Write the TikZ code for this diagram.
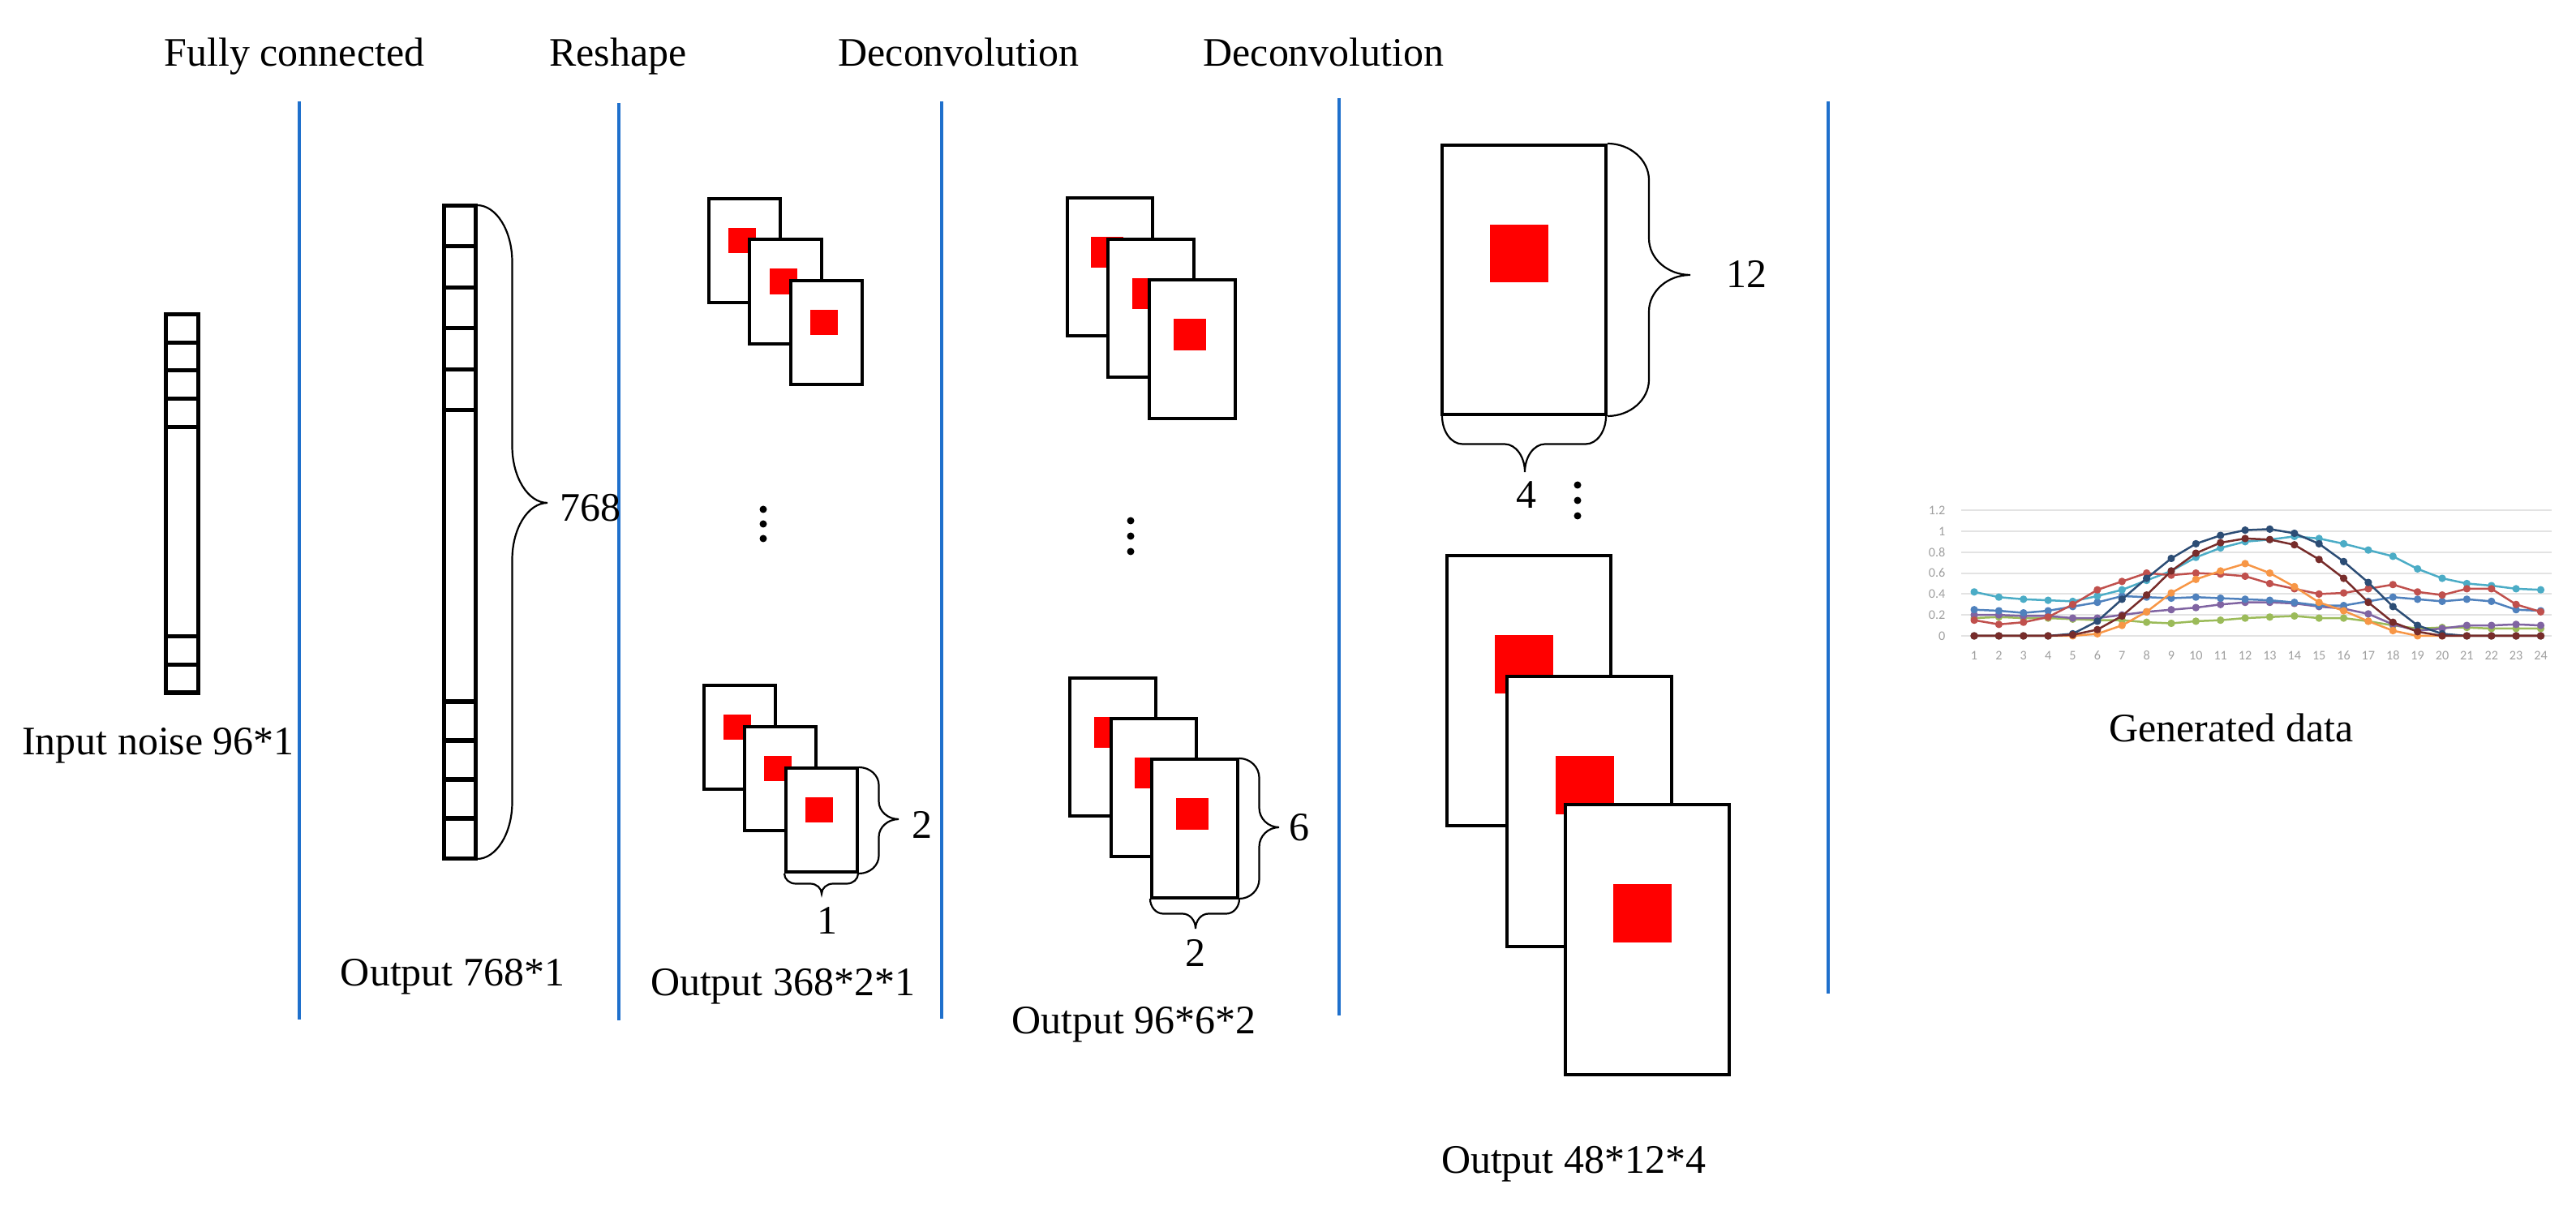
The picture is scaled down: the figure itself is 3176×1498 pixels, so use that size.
\documentclass[tikz,border=0pt]{standalone}
\usepackage{fontspec}
\setmainfont{Liberation Serif}
\newfontfamily\chartfont{Carlito}
\definecolor{sepblue}{RGB}{31,112,204}
\definecolor{cCyan}{HTML}{4BACC6}
\definecolor{cBlue}{HTML}{4F81BD}
\definecolor{cRed}{HTML}{C0504D}
\definecolor{cGreen}{HTML}{9BBB59}
\definecolor{cPurple}{HTML}{8064A2}
\definecolor{cOrange}{HTML}{F79646}
\definecolor{cNavy}{HTML}{2C4D75}
\definecolor{cDarkRed}{HTML}{772C2A}
\newcommand\myRBrace[6]{% x, ytop, ybot, ytip, h, c
 \draw[brc] (#1,#2) .. controls ({#1+0.55*#5},#2) and ({#1+#5},{#2+0.45*#6}) .. ({#1+#5},{#2+#6})
 -- ({#1+#5},{#4-#6}) .. controls ({#1+#5},{#4-0.45*#6}) and ({#1+1.45*#5},#4) .. ({#1+2*#5},#4)
 .. controls ({#1+1.45*#5},#4) and ({#1+#5},{#4+0.45*#6}) .. ({#1+#5},{#4+#6})
 -- ({#1+#5},{#3-#6}) .. controls ({#1+#5},{#3-0.45*#6}) and ({#1+0.55*#5},#3) .. (#1,#3);}
\newcommand\myDBrace[6]{% y, xleft, xright, xtip, h, c
 \draw[brc] (#2,#1) .. controls (#2,{#1+0.55*#5}) and ({#2+0.45*#6},{#1+#5}) .. ({#2+#6},{#1+#5})
 -- ({#4-#6},{#1+#5}) .. controls ({#4-0.45*#6},{#1+#5}) and (#4,{#1+1.45*#5}) .. (#4,{#1+2*#5})
 .. controls (#4,{#1+1.45*#5}) and ({#4+0.45*#6},{#1+#5}) .. ({#4+#6},{#1+#5})
 -- ({#3-#6},{#1+#5}) .. controls ({#3-0.45*#6},{#1+#5}) and (#3,{#1+0.55*#5}) .. (#3,#1);}
\begin{document}
\begin{tikzpicture}[x=0.01cm, y=-0.01cm,
  lbl/.style={font=\fontsize{14.2}{17}\selectfont, inner sep=0pt},
  sepline/.style={draw=sepblue, line width=0.033cm},
  colbox/.style={draw, line width=0.05cm},
  brc/.style={line width=0.022cm},
  fmap/.style={draw, line width=0.04cm, fill=white, inner sep=0pt},
  fmS/.style={fmap, minimum width=0.88cm, minimum height=1.28cm},
  fmM/.style={fmap, minimum width=1.05cm, minimum height=1.70cm},
  fmL/.style={fmap, minimum width=2.02cm, minimum height=3.32cm},
  redsq/.style={fill=red, inner sep=0pt, draw=none},
  redS/.style={redsq, minimum width=0.34cm, minimum height=0.31cm},
  redM/.style={redsq, minimum width=0.40cm, minimum height=0.38cm},
  redL/.style={redsq, minimum width=0.72cm, minimum height=0.71cm},
  vdot/.style={circle, fill=black, inner sep=0pt, minimum size=0.09cm},
  gridc/.style={draw=gray!22, line width=0.02cm},
  axlbl/.style={font=\chartfont\fontsize{4.6}{5}\selectfont, text=gray!75, inner sep=0pt},
  series/.style={color=#1, line width=0.025cm, line join=round}
]
\useasboundingbox (0,0) rectangle (3176,1498);

% ---------- separators ----------
\coordinate (s1t) at (369,125);  \coordinate (s1b) at (369,1257);
\coordinate (s2t) at (763,127);  \coordinate (s2b) at (763,1258);
\coordinate (s3t) at (1161,125); \coordinate (s3b) at (1161,1256);
\coordinate (s4t) at (1651,121); \coordinate (s4b) at (1651,1252);
\coordinate (s5t) at (2254,125); \coordinate (s5b) at (2254,1225);
\draw[sepline] (s1t) -- (s1b);
\draw[sepline] (s2t) -- (s2b);
\draw[sepline] (s3t) -- (s3b);
\draw[sepline] (s4t) -- (s4b);
\draw[sepline] (s5t) -- (s5b);

% ---------- top labels ----------
\node[lbl, anchor=base] (tfc) at (363,82) {Fully connected};
\node[lbl, anchor=base] (trs) at (762,82) {Reshape};
\node[lbl, anchor=base] (td1) at (1182,82) {Deconvolution};
\node[lbl, anchor=base] (td2) at (1632,82) {Deconvolution};

% ---------- input noise column ----------
\draw[colbox] (204,388) rectangle (244,854);
\foreach \yy in {423,457,492,527,785,820} \draw[colbox] (204,\yy) -- (244,\yy);
\node[lbl, anchor=base] (lin) at (195,930) {Input noise 96*1};

% ---------- output 768 column ----------
\draw[colbox] (547,254) rectangle (586,1058);
\foreach \yy in {304,355,405,456,506,865,913,961,1009} \draw[colbox] (547,\yy) -- (586,\yy);
\myRBrace{588}{253}{1059}{620}{43.5}{70}
\node[lbl, anchor=west] (n768) at (690,626) {768};
\node[lbl, anchor=base] (lo1) at (558,1215) {Output 768*1};

% ---------- reshape output ----------
\node[fmS] (ra1) at (918,309) {};
\node[redS] at ([shift={(-3,-12.5)}]ra1.center) {};
\node[fmS] (ra2) at (968.5,359.5) {};
\node[redS] at ([shift={(-3,-12.5)}]ra2.center) {};
\node[fmS] (ra3) at (1019,410) {};
\node[redS] at ([shift={(-3,-12.5)}]ra3.center) {};
\node[vdot] (rd1) at (941,628) {};
\node[vdot] (rd2) at (941,646) {};
\node[vdot] (rd3) at (941,664) {};
\node[fmS] (rb1) at (912,909) {};
\node[redS] at ([shift={(-3,-12.5)}]rb1.center) {};
\node[fmS] (rb2) at (962,960) {};
\node[redS] at ([shift={(-3,-12.5)}]rb2.center) {};
\node[fmS] (rb3) at (1013,1011) {};
\node[redS] at ([shift={(-3,-12.5)}]rb3.center) {};
\myRBrace{1059}{946}{1077}{1010}{24.5}{22}
\myDBrace{1077}{967}{1058}{1013}{12.5}{14}
\node[lbl] (n2a) at (1137,1017) {2};
\node[lbl] (n1a) at (1020,1135) {1};
\node[lbl, anchor=base] (lo2) at (965,1227) {Output 368*2*1};

% ---------- deconvolution 1 output ----------
\node[fmM] (da1) at (1368.5,329) {};
\node[redM] at ([shift={(-3.5,-18)}]da1.center) {};
\node[fmM] (da2) at (1419,380) {};
\node[redM] at ([shift={(-3.5,-18)}]da2.center) {};
\node[fmM] (da3) at (1470,430.5) {};
\node[redM] at ([shift={(-3.5,-18)}]da3.center) {};
\node[vdot] (dd1) at (1394,642) {};
\node[vdot] (dd2) at (1394,661) {};
\node[vdot] (dd3) at (1394,680) {};
\node[fmM] (db1) at (1372,921) {};
\node[redM] at ([shift={(-3.5,-18)}]db1.center) {};
\node[fmM] (db2) at (1422.5,971) {};
\node[redM] at ([shift={(-3.5,-18)}]db2.center) {};
\node[fmM] (db3) at (1473,1021.5) {};
\node[redM] at ([shift={(-3.5,-18)}]db3.center) {};
\myRBrace{1528}{935}{1108}{1020}{24.5}{24}
\myDBrace{1108}{1418}{1528}{1474}{18.5}{16}
\node[lbl] (n6) at (1602,1020) {6};
\node[lbl] (n2b) at (1474,1175) {2};
\node[lbl, anchor=base] (lo3) at (1398,1274) {Output 96*6*2};

% ---------- deconvolution 2 output ----------
\node[fmL] (ea) at (1879,345) {};
\node[redL] at ([shift={(-6,-32.5)}]ea.center) {};
\myRBrace{1982}{177}{513}{339}{51}{45}
\myDBrace{513}{1778}{1980}{1880}{34.5}{25}
\node[lbl] (n12) at (2153,338) {12};
\node[lbl] (n4) at (1882,610) {4};
\node[vdot] (ed1) at (1945,598) {};
\node[vdot] (ed2) at (1945,617) {};
\node[vdot] (ed3) at (1945,636) {};
\node[fmL] (eb1) at (1885,851.5) {};
\node[redL] at ([shift={(-6,-32.5)}]eb1.center) {};
\node[fmL] (eb2) at (1959.5,1000.5) {};
\node[redL] at ([shift={(-6,-32.5)}]eb2.center) {};
\node[fmL] (eb3) at (2031,1158.5) {};
\node[redL] at ([shift={(-6,-32.5)}]eb3.center) {};
\node[lbl, anchor=base] (lo4) at (1940,1446) {Output 48*12*4};

% ---------- generated data chart ----------
\begin{scope}[shift={(2403.65,784)}, x=0.3035cm, y=1.29cm]
  \foreach \v in {0,0.2,0.4,0.6,0.8,1,1.2} \draw[gridc] (0.47,\v) -- (24.43,\v);
  \foreach \v in {0,0.2,0.4,0.6,0.8,1,1.2} \node[axlbl, anchor=east] at (-0.15,\v) {\v};
  \foreach \i in {1,...,24} \node[axlbl] at (\i,-0.186) {\i};
  \draw[series=cGreen] plot[mark=*, mark size=0.95pt] coordinates {(1,.17) (2,.18) (3,.17) (4,.17) (5,.16) (6,.15) (7,.15) (8,.13) (9,.12) (10,.14) (11,.15) (12,.17) (13,.18) (14,.19) (15,.17) (16,.17) (17,.14) (18,.10) (19,.07) (20,.08) (21,.08) (22,.07) (23,.07) (24,.07)};
  \draw[series=cPurple] plot[mark=*, mark size=0.95pt] coordinates {(1,.20) (2,.20) (3,.19) (4,.19) (5,.17) (6,.17) (7,.20) (8,.23) (9,.25) (10,.27) (11,.30) (12,.32) (13,.32) (14,.31) (15,.28) (16,.26) (17,.21) (18,.11) (19,.05) (20,.07) (21,.10) (22,.10) (23,.11) (24,.10)};
  \draw[series=cBlue] plot[mark=*, mark size=0.95pt] coordinates {(1,.25) (2,.24) (3,.22) (4,.24) (5,.28) (6,.32) (7,.38) (8,.37) (9,.36) (10,.37) (11,.36) (12,.35) (13,.34) (14,.32) (15,.29) (16,.29) (17,.33) (18,.37) (19,.35) (20,.33) (21,.35) (22,.33) (23,.25) (24,.24)};
  \draw[series=cCyan] plot[mark=*, mark size=0.95pt] coordinates {(1,.42) (2,.37) (3,.35) (4,.34) (5,.33) (6,.38) (7,.44) (8,.53) (9,.62) (10,.75) (11,.84) (12,.90) (13,.92) (14,.95) (15,.93) (16,.88) (17,.82) (18,.76) (19,.64) (20,.55) (21,.50) (22,.48) (23,.45) (24,.44)};
  \draw[series=cRed] plot[mark=*, mark size=0.95pt] coordinates {(1,.15) (2,.11) (3,.13) (4,.18) (5,.30) (6,.44) (7,.52) (8,.60) (9,.58) (10,.60) (11,.59) (12,.57) (13,.50) (14,.45) (15,.40) (16,.41) (17,.45) (18,.49) (19,.42) (20,.39) (21,.45) (22,.45) (23,.30) (24,.23)};
  \draw[series=cOrange] plot[mark=*, mark size=0.95pt] coordinates {(1,0) (2,0) (3,0) (4,0) (5,0) (6,.02) (7,.10) (8,.23) (9,.41) (10,.54) (11,.62) (12,.69) (13,.60) (14,.47) (15,.32) (16,.24) (17,.14) (18,.05) (19,0) (20,0) (21,0) (22,0) (23,0) (24,0)};
  \draw[series=cNavy] plot[mark=*, mark size=0.95pt] coordinates {(1,0) (2,0) (3,0) (4,0) (5,.02) (6,.14) (7,.35) (8,.55) (9,.74) (10,.88) (11,.96) (12,1.01) (13,1.02) (14,.98) (15,.88) (16,.71) (17,.51) (18,.28) (19,.10) (20,.02) (21,0) (22,0) (23,0) (24,0)};
  \draw[series=cDarkRed] plot[mark=*, mark size=0.95pt] coordinates {(1,0) (2,0) (3,0) (4,0) (5,.01) (6,.06) (7,.19) (8,.39) (9,.62) (10,.79) (11,.89) (12,.93) (13,.92) (14,.87) (15,.73) (16,.55) (17,.32) (18,.13) (19,.04) (20,0) (21,0) (22,0) (23,0) (24,0)};
\end{scope}
\node[lbl, anchor=base] (lgen) at (2751,915) {Generated data};
\end{tikzpicture}
\end{document}
